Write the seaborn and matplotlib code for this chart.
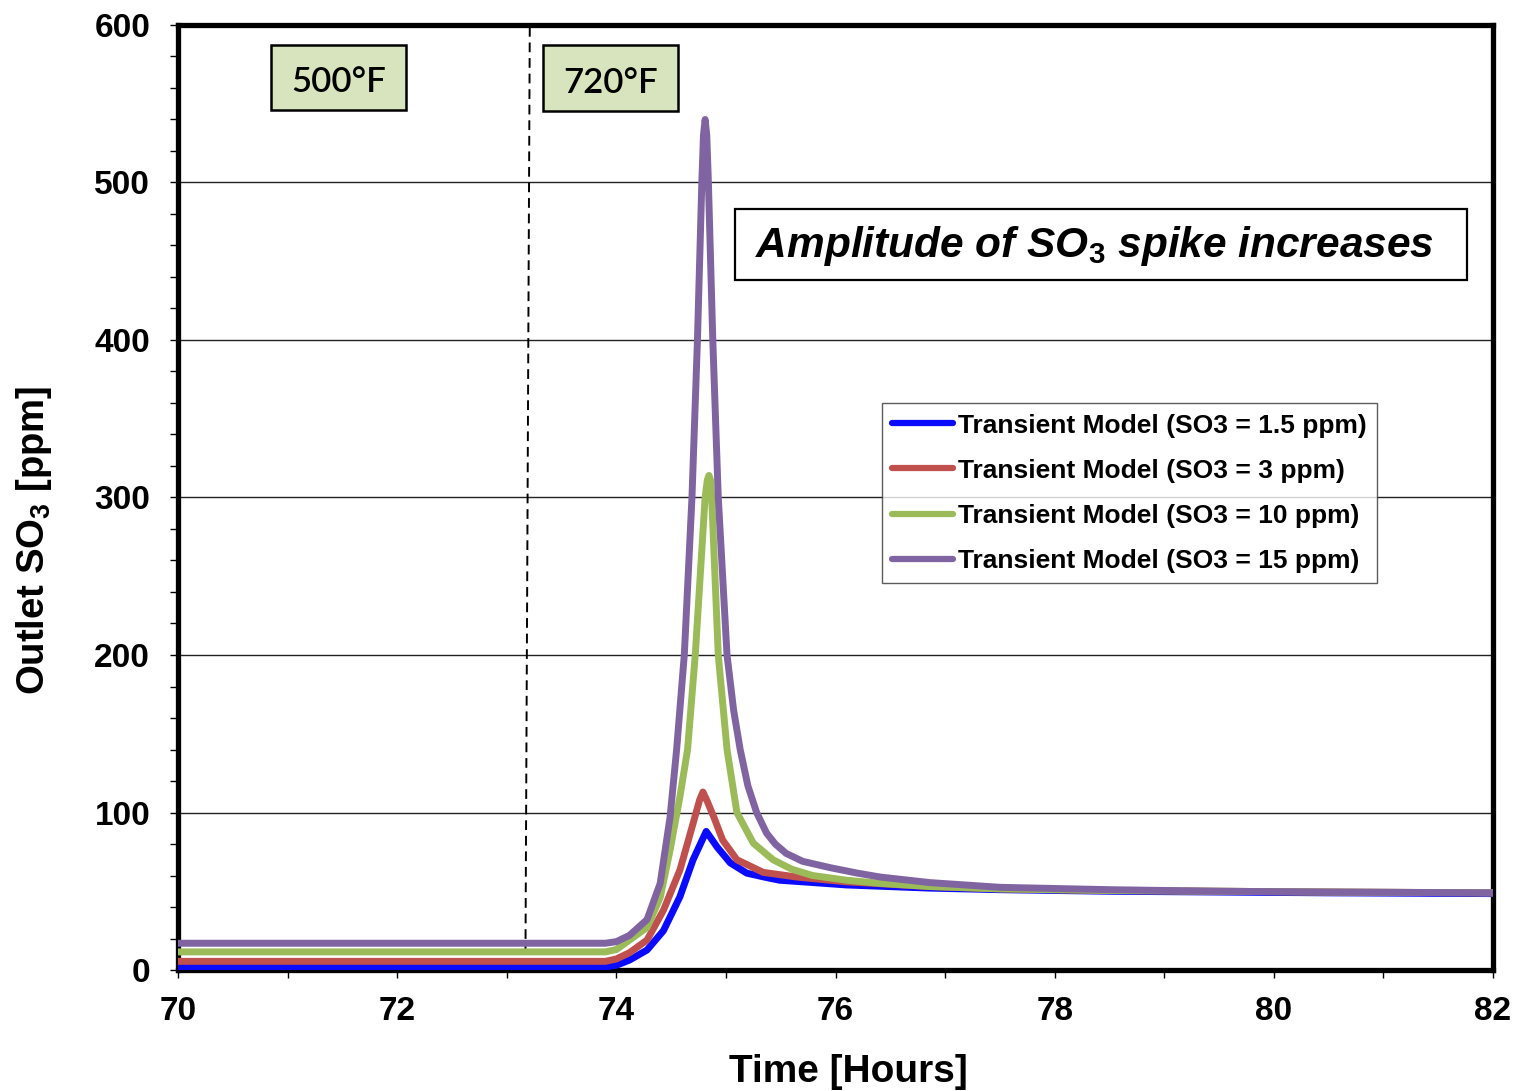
import matplotlib
matplotlib.use("Agg")
import matplotlib.pyplot as plt
from matplotlib.patches import Rectangle
from matplotlib.ticker import MultipleLocator
import seaborn as sns
import pandas as pd

# Outlet SO3 response after the 500°F -> 720°F temperature step
labels = [
    "Transient Model (SO3 = 1.5 ppm)",
    "Transient Model (SO3 = 3 ppm)",
    "Transient Model (SO3 = 10 ppm)",
    "Transient Model (SO3 = 15 ppm)",
]
colors = ["#0a0aff", "#c0504d", "#9bbb59", "#8064a2"]

t_15 = [70, 73.9, 74.0, 74.12, 74.28, 74.43, 74.58, 74.70, 74.78, 74.82, 74.87,
        74.92, 75.04, 75.19, 75.35, 75.49, 75.8, 76.10, 76.86, 77.5, 78.5,
        79.5, 80.5, 82]
so3_15 = [2, 2, 3, 6.3, 12.7, 25, 46.5, 70, 82, 88, 83,
          78, 68, 61.5, 59, 57, 55.5, 54, 52, 51, 50,
          49.5, 49, 48.5]

t_3 = [70, 73.9, 74.0, 74.12, 74.28, 74.43, 74.58, 74.70, 74.76, 74.79, 74.83,
       74.89, 74.97, 75.10, 75.34, 75.65, 76.10, 76.86, 77.5, 78.5, 79.5,
       80.5, 82]
so3_3 = [5.5, 5.5, 7, 11, 19, 38, 63.5, 93, 108, 113, 107,
         97, 82.5, 70, 62, 59, 56, 53, 51.5, 50.5, 50,
         49.5, 49]

t_10 = [70, 73.9, 74.0, 74.12, 74.28, 74.40, 74.49, 74.58, 74.65, 74.72,
        74.81, 74.83, 74.845, 74.86, 74.87, 74.93, 75.01, 75.10, 75.25, 75.43,
        75.6, 75.79, 76.1, 76.41, 76.86, 77.5, 78.5, 79.5, 80.5, 82]
so3_10 = [11.5, 11.5, 13, 19, 27, 46, 76, 110, 140, 200,
          300, 311, 314, 311, 300, 200, 140, 100, 80.5, 70,
          64, 60, 57, 55, 53, 51.5, 50.5, 50, 49.5, 49]

t_150 = [70, 73.9, 74.0, 74.12, 74.28, 74.40, 74.49, 74.55, 74.62, 74.69,
         74.74, 74.78, 74.795, 74.81, 74.825, 74.84, 74.88, 74.93, 75.01, 75.07,
         75.13, 75.2, 75.28, 75.37, 75.45, 75.55, 75.7, 75.95, 76.2, 76.41,
         76.86, 77.5, 78.5, 79.5, 80.5, 82]
so3_150 = [17, 17, 18, 22, 32, 55, 97, 140, 200, 300,
           400, 500, 530, 540, 530, 500, 400, 300, 200, 165,
           140, 117, 100, 87, 80, 74, 69, 65, 61.5, 59,
           55.5, 52.5, 51, 50, 49.5, 49]

step_time = [73.17, 73.21]
x_ticks = [70, 72, 74, 76, 78, 80, 82]
y_ticks = [0, 100, 200, 300, 400, 500, 600]

sns.set_style("white")
plt.rcParams["font.family"] = ["Liberation Sans", "DejaVu Sans"]
plt.rcParams["text.color"] = "black"
plt.rcParams["axes.labelcolor"] = "black"
plt.rcParams["xtick.color"] = "black"
plt.rcParams["ytick.color"] = "black"
plt.rcParams["mathtext.fontset"] = "custom"
plt.rcParams["mathtext.rm"] = "Liberation Sans:bold"
plt.rcParams["mathtext.bf"] = "Liberation Sans:bold"
plt.rcParams["mathtext.it"] = "Liberation Sans:bold:italic"

fig = plt.figure(figsize=(15.15, 10.91), dpi=100)
ax = fig.add_axes([0.1175, 0.1109, 0.868, 0.8662])

# horizontal grid
for yv in y_ticks[1:-1]:
    ax.axhline(yv, color="#222222", lw=1.0, zorder=1)

series = [(t_15, so3_15), (t_3, so3_3), (t_10, so3_10), (t_150, so3_150)]
for (tx, ty), lab, col in zip(series, labels, colors):
    df = pd.DataFrame({"t": tx, "so3": ty})
    sns.lineplot(data=df, x="t", y="so3", ax=ax, color=col, lw=5,
                 label=lab, estimator=None, sort=False, zorder=3,
                 solid_capstyle="round", solid_joinstyle="round")

# temperature step marker
ax.plot(step_time, [0, 600], color="black", lw=1.4, ls=(0, (5, 3)), zorder=2)

ax.set_xlim(70, 82)
ax.set_ylim(0, 600)
ax.set_xticks(x_ticks)
ax.set_yticks(y_ticks)
ax.xaxis.set_minor_locator(MultipleLocator(1))
ax.yaxis.set_minor_locator(MultipleLocator(20))
ax.tick_params(axis="both", which="both", direction="out", length=6,
               width=1, color="black", bottom=True, left=True)
ax.tick_params(axis="y", which="major", labelsize=24, pad=14,
               labelcolor="black")
ax.tick_params(axis="x", which="major", labelsize=24, pad=13,
               labelcolor="black")
for lbl in ax.get_xticklabels() + ax.get_yticklabels():
    lbl.set_fontweight("bold")
for sp in ax.spines.values():
    sp.set_linewidth(3.8)
    sp.set_color("black")
    sp.set_visible(True)

ax.set_xlabel("Time [Hours]", fontsize=28, fontweight="bold")
ax.set_ylabel("Outlet SO$_\\mathrm{3}$ [ppm]", fontsize=27.5, fontweight="bold")
ax.xaxis.set_label_coords(0.51, -0.089)
ax.yaxis.set_label_coords(-0.094, 0.455)


def px(xp, yp):
    return ((xp - 178) / 1315, (970 - yp) / 945)


# temperature boxes
for (x0, y0, x1, y1), txt in [((271, 45, 406, 110), "500°F"),
                              ((543, 45, 678, 111), "720°F")]:
    ax0, ay1 = px(x0, y0)
    ax1, ay0 = px(x1, y1)
    ax.add_patch(Rectangle((ax0, ay0), ax1 - ax0, ay1 - ay0,
                           transform=ax.transAxes, facecolor="#d7e4bd",
                           edgecolor="black", lw=1.8, zorder=4))
    ax.text((ax0 + ax1) / 2, (ay0 + ay1) / 2 - 0.005, txt, transform=ax.transAxes,
            ha="center", va="center", fontsize=25, family=["Lato", "DejaVu Sans"],
            fontweight="semibold", zorder=5)

# annotation box
bx0, by1 = px(735, 209)
bx1, by0 = px(1467, 280)
ax.add_patch(Rectangle((bx0, by0), bx1 - bx0, by1 - by0, transform=ax.transAxes,
                       facecolor="white", edgecolor="black", lw=1.6, zorder=4))
ax.text((bx0 + bx1) / 2 - 0.005, (by0 + by1) / 2 - 0.002,
        "Amplitude of SO$_\\mathit{3}$ spike increases", transform=ax.transAxes,
        ha="center", va="center", fontsize=30.5, fontweight="bold", style="italic",
        zorder=5)

leg = ax.legend(loc="upper left", bbox_to_anchor=(0.535, 0.6), borderaxespad=0,
                fontsize=19, frameon=True, fancybox=False, shadow=False,
                handlelength=2.3, handletextpad=0.2, labelspacing=0.8,
                borderpad=0.4)
leg.get_frame().set_edgecolor("#333333")
leg.get_frame().set_linewidth(1.0)
leg.set_zorder(6)
for t in leg.get_texts():
    t.set_fontweight("bold")
    t.set_color("black")
for h in leg.get_lines():
    h.set_linewidth(4.5)

fig.savefig("out.png", dpi=100)
